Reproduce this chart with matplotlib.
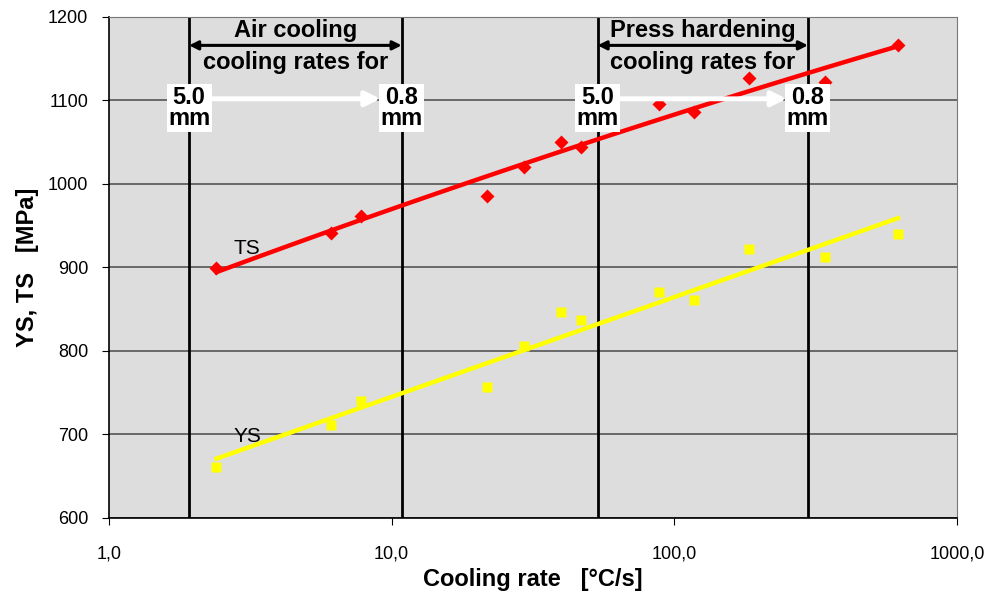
import numpy as np
import matplotlib.pyplot as plt

plt.rcParams['font.family'] = ['Liberation Sans', 'DejaVu Sans']

# measured data
rate = [2.4, 6.1, 7.8, 21.8, 29.5, 39.6, 46.9, 88.5, 117.7, 184, 342, 619]
ts = [899, 941, 962, 986, 1020, 1050, 1044, 1096, 1086, 1127, 1122, 1166]
ys = [661, 711, 740, 757, 806, 847, 837, 871, 861, 922, 913, 940]

# limits of the cooling windows (°C/s)
air_lo, air_hi = 1.92, 10.85
ph_lo, ph_hi = 53.5, 297

fig = plt.figure(figsize=(9.92, 5.94), dpi=100)
ax = fig.add_axes([0.1099, 0.128, 0.8548, 0.8434])
ax.set_facecolor('#dddddd')
ax.set_xscale('log')
ax.set_xlim(1, 1000)
ax.set_ylim(600, 1200)

ax.yaxis.grid(True, color='#555555', lw=1.2)
ax.set_axisbelow(True)

# trend lines (fit on log x)
lx = np.log10(rate)
xs = np.logspace(np.log10(rate[0]), np.log10(rate[-1]), 100)
p_ts = np.polyfit(lx, ts, 2)
p_ys = np.polyfit(lx, ys, 1)
ax.plot(xs, np.polyval(p_ts, np.log10(xs)), color='#ff0000', lw=3.2, zorder=3)
ax.plot(xs, np.polyval(p_ys, np.log10(xs)), color='#ffff00', lw=3.2, zorder=3)
ax.plot(rate, ts, 'D', color='#ff0000', ms=7, mec='none', zorder=4)
ax.plot(rate, ys, 's', color='#ffff00', ms=7, mec='none', zorder=4)

for v in [air_lo, air_hi, ph_lo, ph_hi]:
    ax.axvline(v, color='black', lw=2, zorder=2)

ax.text(2.75, 923, 'TS', fontsize=15, va='center', ha='left')
ax.text(2.75, 697, 'YS', fontsize=15, va='center', ha='left')


def window(lo, hi, title):
    mid = np.sqrt(lo * hi)
    ax.text(mid, 1184, title, fontsize=17, fontweight='bold', ha='center', va='center', zorder=6)
    ax.annotate('', xy=(lo, 1166), xytext=(hi, 1166),
                arrowprops=dict(arrowstyle='<|-|>', color='black', lw=2.2, mutation_scale=13,
                                shrinkA=0, shrinkB=0), zorder=6)
    ax.text(mid, 1145, 'cooling rates for', fontsize=17, fontweight='bold', ha='center', va='center', zorder=6)
    ax.annotate('', xy=(hi * 0.86, 1102), xytext=(lo * 1.16, 1102),
                arrowprops=dict(arrowstyle='-|>', color='white', lw=3.5, mutation_scale=22), zorder=5)
    for x, s in [(lo, '5.0\nmm'), (hi, '0.8\nmm')]:
        ax.text(x, 1091, s, fontsize=17, fontweight='bold', ha='center', va='center', linespacing=0.9,
                bbox=dict(boxstyle='square,pad=0.06', fc='white', ec='none'), zorder=7)


window(air_lo, air_hi, 'Air cooling')
window(ph_lo, ph_hi, 'Press hardening')

ax.set_xticks([1, 10, 100, 1000])
ax.set_xticklabels(['1,0', '10,0', '100,0', '1000,0'])
ax.xaxis.set_minor_locator(plt.NullLocator())
ax.set_yticks(range(600, 1201, 100))
ax.tick_params(axis='both', labelsize=13, direction='out', length=5, color='black')
ax.tick_params(axis='x', pad=15)
ax.tick_params(axis='y', pad=10)

for s in ['top', 'right']:
    ax.spines[s].set_color('#777777')
for s in ['left', 'bottom']:
    ax.spines[s].set_color('black')
    ax.spines[s].set_linewidth(1.2)

ax.set_xlabel('Cooling rate   [°C/s]', fontsize=17, fontweight='bold', labelpad=4)
ax.set_ylabel('YS, TS   [MPa]', fontsize=17, fontweight='bold', labelpad=6)

fig.savefig('out.png', dpi=100)
